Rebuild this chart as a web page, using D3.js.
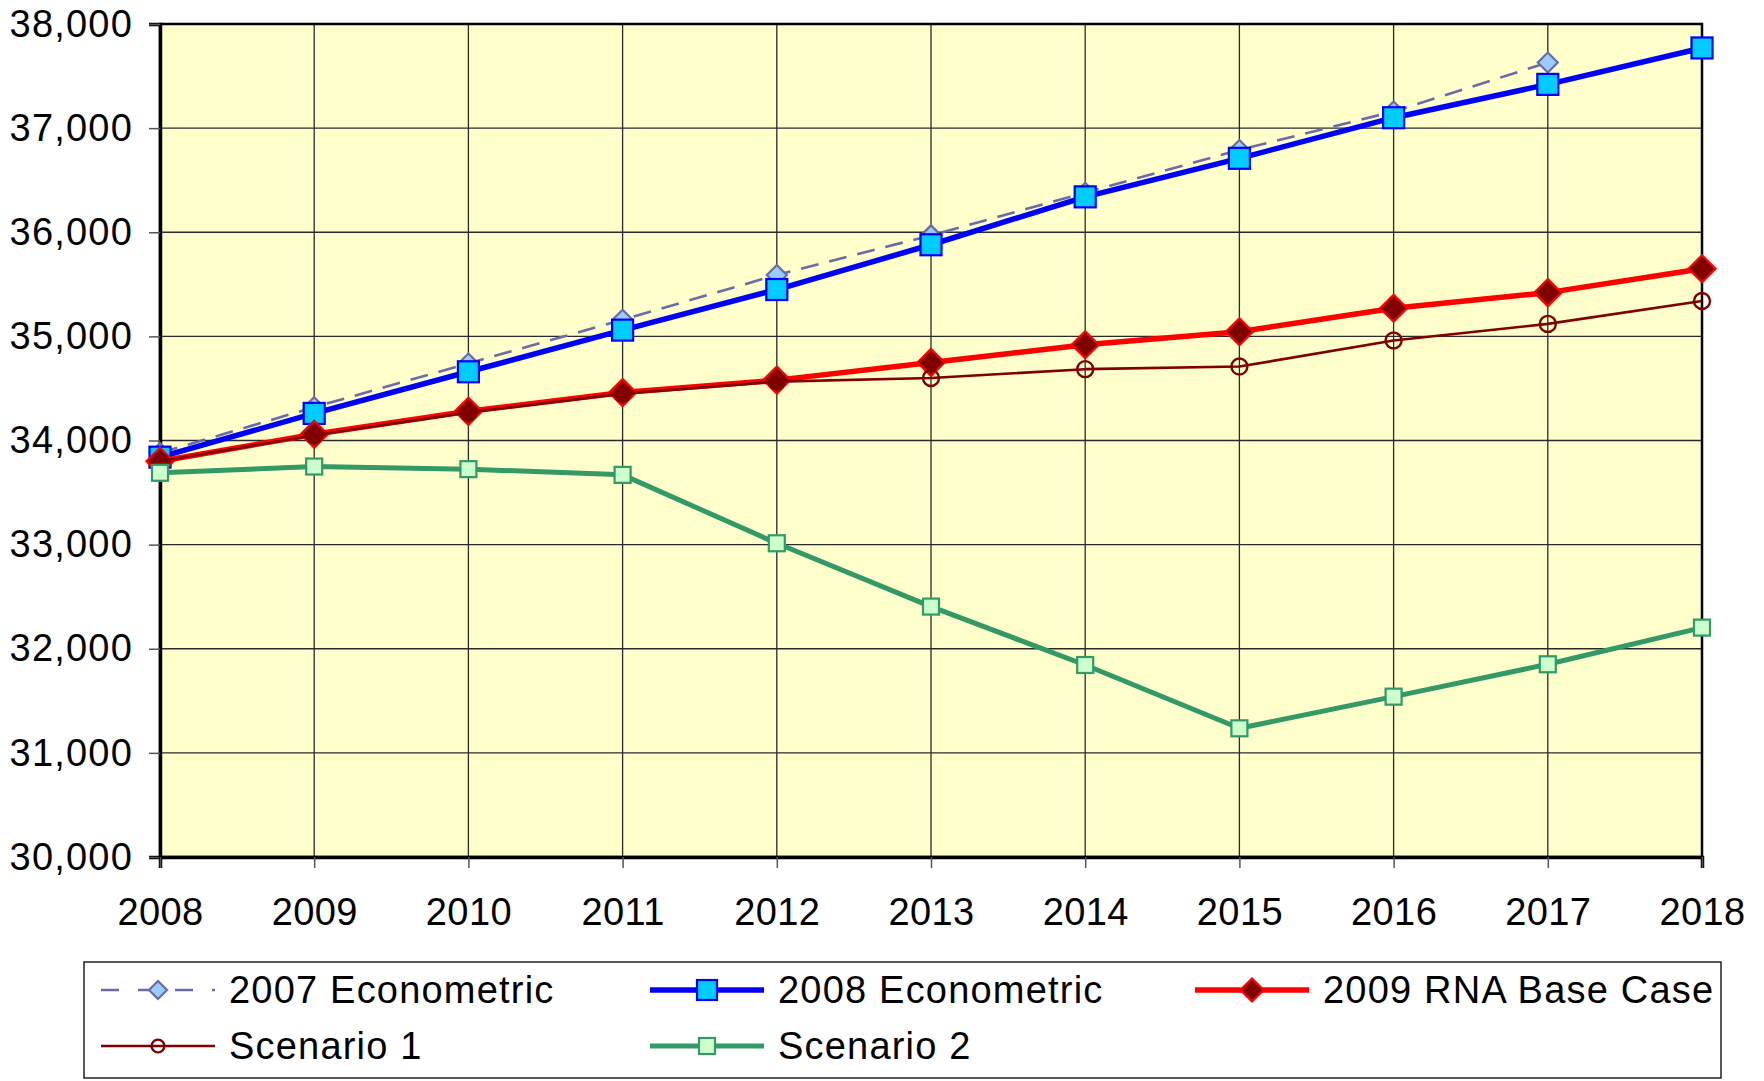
<!DOCTYPE html>
<html>
<head>
<meta charset="utf-8">
<script src="https://cdn.jsdelivr.net/npm/d3@7"></script>
<style>
	body { margin: 0; background: #fff; overflow: hidden; }
	svg { display: block; }
	text { font-family: "Liberation Sans", Arial, sans-serif; fill: #000; }
</style>
</head>
<body>
<div id="chart"></div>
<script>
// DATA
var years = [2008, 2009, 2010, 2011, 2012, 2013, 2014, 2015, 2016, 2017, 2018];
var yTicks = [30000, 31000, 32000, 33000, 34000, 35000, 36000, 37000, 38000];
var seriesNames = ['2007 Econometric', '2008 Econometric', '2009 RNA Base Case', 'Scenario 1', 'Scenario 2'];
var econ2007 = [33880, 34320, 34740, 35160, 35590, 35970, 36380, 36790, 37160, 37630, null];
var econ2008 = [33840, 34260, 34660, 35060, 35450, 35880, 36340, 36710, 37100, 37420, 37770];
var rnaBase = [33800, 34060, 34280, 34460, 34580, 34750, 34920, 35045, 35270, 35420, 35650];
var scenario1 = [33800, 34050, 34270, 34450, 34565, 34600, 34685, 34710, 34960, 35120, 35340];
var scenario2 = [33690, 33750, 33725, 33670, 33013, 32405, 31844, 31236, 31540, 31851, 32203];

// BOUNDS
var margin = {top: 24, right: 62, bottom: 224, left: 160},
	outerWidth = 1764,
	outerHeight = 1081,
	innerWidth = outerWidth - margin.left - margin.right,
	innerHeight = outerHeight - margin.top - margin.bottom;

// SCALE
var xScale = d3.scaleLinear().domain([2008, 2018]).range([0, innerWidth]);
var yScale = d3.scaleLinear().domain([30000, 38000]).range([innerHeight, 0]);

// styles per series
var styles = [
	{values: econ2007, line: '#6b6ba8', width: 2.6, dash: '18,11', shape: 'diamond', size: 20, fill: '#99ccff', stroke: '#6b6ba8', sw: 2.2},
	{values: econ2008, line: '#0000ff', width: 5.5, dash: null, shape: 'square', size: 21, fill: '#00ccff', stroke: '#0000ff', sw: 2.2},
	{values: rnaBase, line: '#ff0000', width: 5.5, dash: null, shape: 'diamond', size: 27, fill: '#800000', stroke: '#ff0000', sw: 2.2},
	{values: scenario1, line: '#800000', width: 2.6, dash: null, shape: 'circle', size: 8, fill: 'none', stroke: '#800000', sw: 2.4},
	{values: scenario2, line: '#339966', width: 5, dash: null, shape: 'square', size: 16, fill: '#ccffcc', stroke: '#339966', sw: 2.2}
];

var svg = d3.select('#chart')
	.append('svg')
	.attr('width', outerWidth)
	.attr('height', outerHeight);

var chart = svg.append('g')
	.attr('transform', 'translate(' + margin.left + ',' + margin.top + ')');

// plot background
chart.append('rect')
	.attr('width', innerWidth)
	.attr('height', innerHeight)
	.attr('fill', '#ffffcc');

// gridlines
chart.append('g').selectAll('line')
	.data(yTicks)
	.enter().append('line')
	.attr('x1', 0).attr('x2', innerWidth)
	.attr('y1', function(d) { return yScale(d); })
	.attr('y2', function(d) { return yScale(d); })
	.attr('stroke', '#2a2a2a')
	.attr('stroke-width', 1.3);

chart.append('g').selectAll('line')
	.data(years)
	.enter().append('line')
	.attr('x1', function(d) { return xScale(d); })
	.attr('x2', function(d) { return xScale(d); })
	.attr('y1', 0).attr('y2', innerHeight)
	.attr('stroke', '#2a2a2a')
	.attr('stroke-width', 1.3);

// border
chart.append('rect')
	.attr('width', innerWidth)
	.attr('height', innerHeight)
	.attr('fill', 'none')
	.attr('stroke', '#000')
	.attr('stroke-width', 2.5);

// AXIS
var yAxis = d3.axisLeft(yScale).tickValues(yTicks).tickFormat(d3.format(',')).tickSize(11).tickPadding(16);
var xAxis = d3.axisBottom(xScale).tickValues(years).tickFormat(d3.format('d')).tickSize(11).tickPadding(30);

var gy = chart.append('g').call(yAxis);
var gx = chart.append('g').attr('transform', 'translate(0,' + innerHeight + ')').call(xAxis);

[gx, gy].forEach(function(g) {
	g.select('.domain').attr('stroke', '#000').attr('stroke-width', 3.5);
	g.selectAll('.tick line').attr('stroke', '#555').attr('stroke-width', 1.5);
	g.selectAll('.tick text').attr('font-size', 38).attr('font-family', '"Liberation Sans", Arial, sans-serif');
});
gy.selectAll('.tick text').attr('letter-spacing', '1.2px');
gx.selectAll('.tick text').attr('letter-spacing', '0.4px');

// marker drawing
function drawMarker(g, s, x, y, scale) {
	var k = scale || 1;
	var m;
	if (s.shape == 'diamond') {
		var h = s.size * k / 2;
		m = g.append('path')
			.attr('d', 'M' + x + ',' + (y - h) + 'L' + (x + h) + ',' + y + 'L' + x + ',' + (y + h) + 'L' + (x - h) + ',' + y + 'Z');
	} else if (s.shape == 'square') {
		var w = s.size * k;
		m = g.append('rect')
			.attr('x', x - w / 2).attr('y', y - w / 2)
			.attr('width', w).attr('height', w);
	} else {
		m = g.append('circle')
			.attr('cx', x).attr('cy', y).attr('r', s.size * k);
	}
	m.attr('fill', s.fill).attr('stroke', s.stroke).attr('stroke-width', s.sw);
}

var line = d3.line()
	.defined(function(d) { return d != null; })
	.x(function(d, i) { return xScale(years[i]); })
	.y(function(d) { return yScale(d); });

styles.forEach(function(s) {
	var g = chart.append('g');
	g.append('path')
		.attr('d', line(s.values))
		.attr('fill', 'none')
		.attr('stroke', s.line)
		.attr('stroke-width', s.width)
		.attr('stroke-dasharray', s.dash)
		.attr('stroke-linejoin', 'round');
	s.values.forEach(function(v, i) {
		if (v == null) return;
		drawMarker(g, s, xScale(years[i]), yScale(v));
	});
});

// LEGEND
var legend = svg.append('g');
legend.append('rect')
	.attr('x', 84).attr('y', 962)
	.attr('width', 1637).attr('height', 116)
	.attr('fill', '#fff')
	.attr('stroke', '#222')
	.attr('stroke-width', 1.5);

var legendPos = [
	{x: 101, y: 990}, {x: 650, y: 990}, {x: 1195, y: 990},
	{x: 101, y: 1046}, {x: 650, y: 1046}
];
var legendScale = [0.9, 0.95, 0.85, 0.8, 1];

styles.forEach(function(s, i) {
	var p = legendPos[i];
	var g = legend.append('g');
	g.append('line')
		.attr('x1', p.x).attr('x2', p.x + 114)
		.attr('y1', p.y).attr('y2', p.y)
		.attr('stroke', s.line)
		.attr('stroke-width', s.width)
		.attr('stroke-dasharray', s.dash ? '18,19' : null);
	drawMarker(g, s, p.x + 57, p.y, legendScale[i]);
	g.append('text')
		.attr('x', p.x + 128)
		.attr('y', p.y)
		.attr('dy', '0.35em')
		.attr('font-size', 38)
		.attr('letter-spacing', '1.2px')
		.text(seriesNames[i]);
});
</script>
</body>
</html>
